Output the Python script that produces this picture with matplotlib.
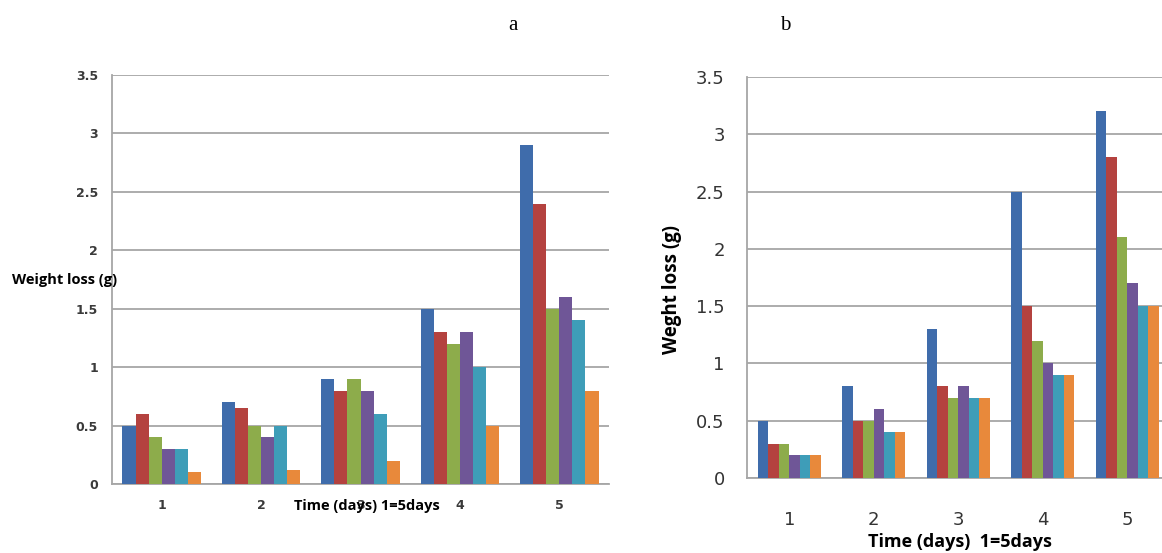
import numpy as np
import matplotlib.pyplot as plt

# time points (1 = 5 days)
days = [1, 2, 3, 4, 5]

# panel a
a_blue = [0.5, 0.7, 0.9, 1.5, 2.9]
a_red = [0.6, 0.65, 0.8, 1.3, 2.4]
a_green = [0.4, 0.5, 0.9, 1.2, 1.5]
a_purple = [0.3, 0.4, 0.8, 1.3, 1.6]
a_cyan = [0.3, 0.5, 0.6, 1.0, 1.4]
a_orange = [0.1, 0.12, 0.2, 0.5, 0.8]

# panel b
b_blue = [0.5, 0.8, 1.3, 2.5, 3.2]
b_red = [0.3, 0.5, 0.8, 1.5, 2.8]
b_green = [0.3, 0.5, 0.7, 1.2, 2.1]
b_purple = [0.2, 0.6, 0.8, 1.0, 1.7]
b_cyan = [0.2, 0.4, 0.7, 0.9, 1.5]
b_orange = [0.2, 0.4, 0.7, 0.9, 1.5]

yticks = [0, 0.5, 1, 1.5, 2, 2.5, 3, 3.5]
ytick_labels = ['0', '0.5', '1', '1.5', '2', '2.5', '3', '3.5']

colors = ['#3F6CAB', '#B4423F', '#8DAC4B', '#6F5697', '#3E9DB8', '#E8893B']
GRID = '#A6A6A6'


def draw_panel(ax, series, group_width, tick_size, tick_pad):
    x = np.arange(len(days))
    n = len(series)
    w = group_width / n
    for i, (vals, c) in enumerate(zip(series, colors)):
        ax.bar(x - group_width / 2 + (i + 0.5) * w, vals, width=w, color=c,
               edgecolor='none', zorder=3)
    ax.set_xlim(-0.5, len(days) - 0.5)
    ax.set_ylim(0, 3.5)
    ax.set_yticks(yticks)
    ax.set_yticklabels(ytick_labels)
    ax.set_xticks(x)
    ax.set_xticklabels([str(d) for d in days])
    ax.grid(axis='y', color=GRID, linewidth=1.3, zorder=0)
    for s in ['top', 'right']:
        ax.spines[s].set_visible(False)
    for s in ['left', 'bottom']:
        ax.spines[s].set_color(GRID)
        ax.spines[s].set_linewidth(1.3)
    ax.tick_params(length=0, labelsize=tick_size, colors='#333333')
    ax.tick_params(axis='y', pad=tick_pad)
    ax.tick_params(axis='x', pad=tick_pad)


fig = plt.figure(figsize=(11.62, 5.53), dpi=100)

# panel a
ax1 = fig.add_axes([112 / 1162, 69 / 553, 497 / 1162, 409 / 553])
draw_panel(ax1, [a_blue, a_red, a_green, a_purple, a_cyan, a_orange], 0.79, 9, 10)
ax1.tick_params(axis='x', pad=11)
for lab in ax1.get_xticklabels() + ax1.get_yticklabels():
    lab.set_fontweight('bold')
    lab.set_color('#3A3A3A')
fig.text(12 / 1162, 1 - 280 / 553, 'Weight loss (g)', fontsize=10.5,
         fontweight='bold', family='Open Sans', va='center', ha='left')
fig.text(367 / 1162, 1 - 506 / 553, 'Time (days) 1=5days', fontsize=10.5,
         fontweight='bold', family='Open Sans', va='center', ha='center')

# panel b
ax2 = fig.add_axes([747 / 1162, 75 / 553, 422.5 / 1162, 401 / 553])
draw_panel(ax2, [b_blue, b_red, b_green, b_purple, b_cyan, b_orange], 0.75, 13, 16)
ax2.tick_params(axis='x', pad=24)
fig.text(672 / 1162, 1 - 290 / 553, 'Weght loss (g)', fontsize=13.5,
         fontweight='bold', family='Open Sans', va='center', ha='center',
         rotation=90)
fig.text(960 / 1162, 1 - 542 / 553, 'Time (days)  1=5days', fontsize=13,
         fontweight='bold', family='Open Sans', va='center', ha='center')

# panel letters
fig.text(513 / 1162, 1 - 26 / 553, 'a', fontsize=15, family='Liberation Serif',
         va='center', ha='center')
fig.text(785 / 1162, 1 - 26 / 553, 'b', fontsize=15, family='Liberation Serif',
         va='center', ha='center')

fig.savefig('out.png', dpi=100)
